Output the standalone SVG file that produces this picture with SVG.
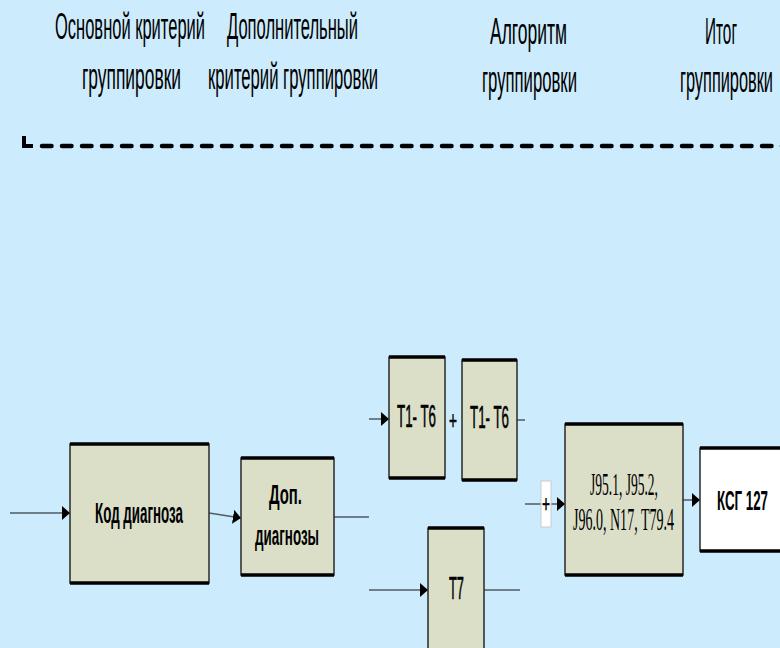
<svg xmlns="http://www.w3.org/2000/svg" width="780" height="648" viewBox="0 0 780 648">
<defs>
<marker id="arr" markerUnits="userSpaceOnUse" markerWidth="9" markerHeight="14" refX="8" refY="7" orient="auto">
<path d="M0,0 L8,7 L0,14 Z" fill="#000"/>
</marker>
<style>
.hdr{font-family:"Liberation Sans",Arial,sans-serif;font-size:36px;fill:#000}
.box{fill:#DCDFC8;stroke:#2a2a2a;stroke-width:1.5}
.edge{stroke:#000;stroke-width:3.5}
.lbl{font-family:"Liberation Sans",Arial,sans-serif;font-weight:bold;fill:#000}
.reg{font-family:"Liberation Sans",Arial,sans-serif;font-weight:normal;fill:#000;stroke:#000;stroke-width:0.6}
.ser{font-family:"Liberation Serif","Times New Roman",serif;font-size:31px;fill:#000}
.con{stroke:#505a66;stroke-width:1.5;fill:none}
</style>
</defs>
<rect width="780" height="648" fill="#CCEBFC"/>
<g id="headers">
<text class="hdr" x="55" y="39" textLength="150" lengthAdjust="spacingAndGlyphs">Основной критерий</text>
<text class="hdr" x="82" y="89" textLength="99" lengthAdjust="spacingAndGlyphs">группировки</text>
<text class="hdr" x="227" y="39" textLength="131" lengthAdjust="spacingAndGlyphs">Дополнительный</text>
<text class="hdr" x="208" y="89" textLength="170" lengthAdjust="spacingAndGlyphs">критерий группировки</text>
<text class="hdr" x="490" y="44" textLength="77" lengthAdjust="spacingAndGlyphs">Алгоритм</text>
<text class="hdr" x="482" y="92" textLength="95" lengthAdjust="spacingAndGlyphs">группировки</text>
<text class="hdr" x="705" y="44" textLength="32" lengthAdjust="spacingAndGlyphs">Итог</text>
<text class="hdr" x="680" y="92" textLength="93" lengthAdjust="spacingAndGlyphs">группировки</text>
</g>
<g id="divider">
<path d="M24,136 V146 H33" stroke="#000" stroke-width="4" fill="none"/>
<line x1="42" y1="146" x2="790" y2="146" stroke="#000" stroke-width="4.5" stroke-linecap="round" stroke-dasharray="9.5 10.5"/>
</g>
<g id="connectors">
<line class="con" x1="10" y1="513" x2="70" y2="513" marker-end="url(#arr)"/>
<line class="con" x1="209" y1="513" x2="241" y2="518" marker-end="url(#arr)"/>
<line class="con" x1="334" y1="517" x2="369" y2="517"/>
<line class="con" x1="369" y1="419" x2="389" y2="419" marker-end="url(#arr)"/>
<line class="con" x1="517" y1="420" x2="525" y2="420"/>
<line class="con" x1="525" y1="504" x2="565" y2="504" marker-end="url(#arr)"/>
<line class="con" x1="683" y1="500" x2="700" y2="500" marker-end="url(#arr)"/>
<line class="con" x1="369" y1="590" x2="428" y2="590" marker-end="url(#arr)"/>
<line class="con" x1="484" y1="590" x2="520" y2="590"/>
</g>
<g id="node-kod">
<rect class="box" x="70" y="444" width="139" height="139"/>
<line class="edge" x1="70" y1="444" x2="209" y2="444"/>
<line class="edge" x1="70" y1="583" x2="209" y2="583"/>
<text class="lbl" x="95" y="523" font-size="30" textLength="88" lengthAdjust="spacingAndGlyphs">Код диагноза</text>
</g>
<g id="node-dop">
<rect class="box" x="241" y="458" width="93" height="117"/>
<line class="edge" x1="241" y1="458" x2="334" y2="458"/>
<line class="edge" x1="241" y1="575" x2="334" y2="575"/>
<text class="lbl" x="269" y="504" font-size="27" textLength="33" lengthAdjust="spacingAndGlyphs">Доп.</text>
<text class="lbl" x="255" y="545" font-size="27" textLength="64" lengthAdjust="spacingAndGlyphs">диагнозы</text>
</g>
<g id="node-t16a">
<rect class="box" x="389" y="357" width="56" height="121"/>
<line class="edge" x1="389" y1="357" x2="445" y2="357"/>
<line class="edge" x1="389" y1="478" x2="445" y2="478"/>
<text class="reg" x="397" y="427" font-size="31" textLength="39" lengthAdjust="spacingAndGlyphs">T1- T6</text>
</g>
<text class="reg" x="449" y="429" font-size="26" textLength="8" lengthAdjust="spacingAndGlyphs">+</text>
<g id="node-t16b">
<rect class="box" x="462" y="360" width="55" height="120"/>
<line class="edge" x1="462" y1="360" x2="517" y2="360"/>
<line class="edge" x1="462" y1="480" x2="517" y2="480"/>
<text class="reg" x="470" y="428" font-size="31" textLength="39" lengthAdjust="spacingAndGlyphs">T1- T6</text>
</g>
<g id="node-t7">
<rect class="box" x="428" y="528" width="56" height="130"/>
<line class="edge" x1="428" y1="528" x2="484" y2="528"/>
<text class="reg" x="449" y="599" font-size="32" textLength="15" lengthAdjust="spacingAndGlyphs">T7</text>
</g>
<g id="node-plus">
<rect x="541" y="481" width="10" height="46" fill="#fff" stroke="#c8ccd0" stroke-width="1"/>
<text class="reg" x="542" y="512" font-size="24" textLength="8" lengthAdjust="spacingAndGlyphs">+</text>
</g>
<g id="node-codes">
<rect class="box" x="565" y="424" width="118" height="151"/>
<line class="edge" x1="565" y1="424" x2="683" y2="424"/>
<line class="edge" x1="565" y1="575" x2="683" y2="575"/>
<text class="ser" x="590" y="495" textLength="68" lengthAdjust="spacingAndGlyphs">J95.1, J95.2,</text>
<text class="ser" x="573" y="530" textLength="101" lengthAdjust="spacingAndGlyphs">J96.0, N17, T79.4</text>
</g>
<g id="node-ksg">
<rect x="700" y="448" width="100" height="103" fill="#fff" stroke="#2a2a2a" stroke-width="1.5"/>
<line class="edge" x1="700" y1="448" x2="790" y2="448"/>
<line class="edge" x1="700" y1="551" x2="790" y2="551"/>
<text class="lbl" x="717" y="510" font-size="27" textLength="51" lengthAdjust="spacingAndGlyphs">КСГ 127</text>
</g>
</svg>
